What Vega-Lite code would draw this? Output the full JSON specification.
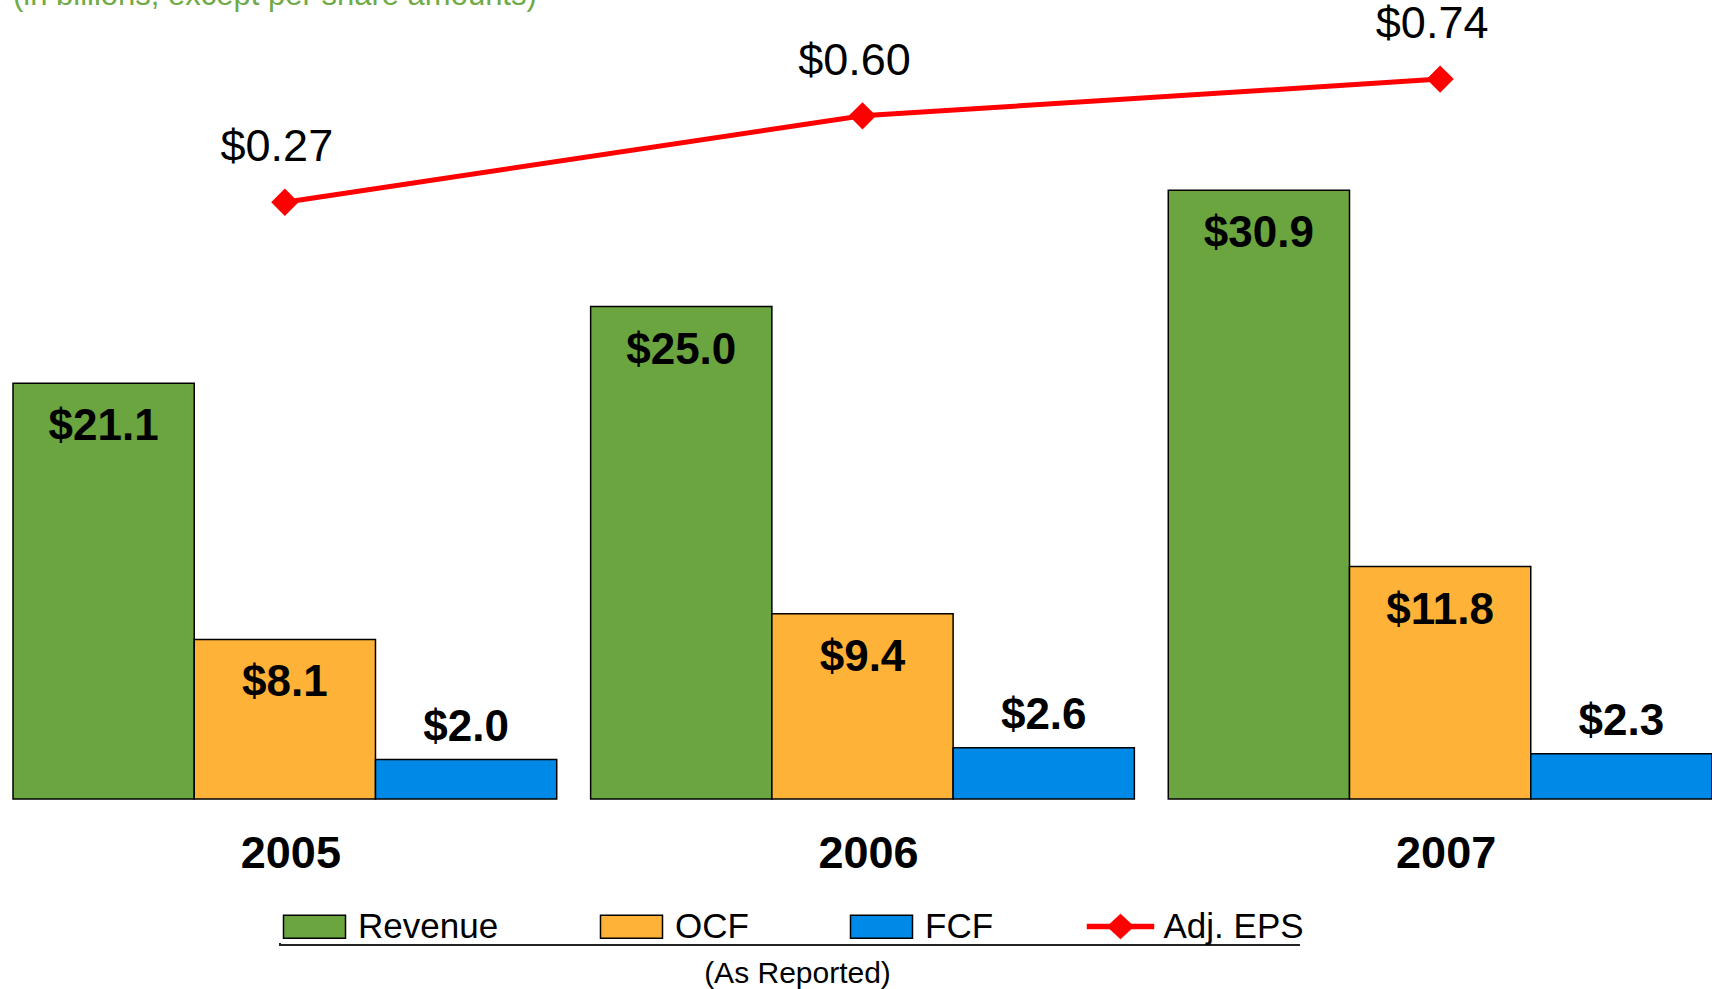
{
  "$schema": "https://vega.github.io/schema/vega-lite/v6.json",
  "autosize": {"type": "none"},
  "width": 1699,
  "height": 799,
  "padding": {"left": 13, "top": 0, "right": 0, "bottom": 190},
  "background": "white",
  "title": {
    "text": "(in billions, except per share amounts)",
    "anchor": "start",
    "frame": "group",
    "font": "Liberation Sans",
    "fontSize": 31,
    "fontWeight": "normal",
    "color": "#6FAA46",
    "offset": 0,
    "dy": 12
  },
  "data": {
    "values": [
      {"year": "2005", "metric": "Revenue", "value": 21.1},
      {"year": "2005", "metric": "OCF", "value": 8.1},
      {"year": "2005", "metric": "FCF", "value": 2.0},
      {"year": "2005", "metric": "Adj. EPS", "value": 0.27},
      {"year": "2006", "metric": "Revenue", "value": 25.0},
      {"year": "2006", "metric": "OCF", "value": 9.4},
      {"year": "2006", "metric": "FCF", "value": 2.6},
      {"year": "2006", "metric": "Adj. EPS", "value": 0.60},
      {"year": "2007", "metric": "Revenue", "value": 30.9},
      {"year": "2007", "metric": "OCF", "value": 11.8},
      {"year": "2007", "metric": "FCF", "value": 2.3},
      {"year": "2007", "metric": "Adj. EPS", "value": 0.74}
    ]
  },
  "encoding": {
    "x": {
      "field": "year",
      "type": "nominal",
      "scale": {"paddingInner": 0.0587, "paddingOuter": 0},
      "axis": {
        "domain": false,
        "ticks": false,
        "labelAngle": 0,
        "labelFont": "Liberation Sans",
        "labelFontSize": 45,
        "labelFontWeight": "bold",
        "labelColor": "black",
        "labelBaseline": "alphabetic",
        "labelPadding": 68,
        "labelOffset": 6,
        "title": "(As Reported)",
        "titleFont": "Liberation Sans",
        "titleFontSize": 30,
        "titleFontWeight": "normal",
        "titleColor": "black",
        "titleX": 784,
        "titleY": 183,
        "titleBaseline": "alphabetic"
      }
    }
  },
  "layer": [
    {
      "transform": [{"filter": "datum.metric !== 'Adj. EPS'"}],
      "mark": {"type": "bar", "stroke": "black", "strokeWidth": 1.5},
      "encoding": {
        "xOffset": {"field": "metric", "type": "nominal", "scale": {"domain": ["Revenue", "OCF", "FCF"], "paddingInner": 0, "paddingOuter": 0}},
        "y": {"field": "value", "type": "quantitative", "scale": {"domain": [0, 40.56], "nice": false, "zero": true}, "axis": null},
        "color": {
          "field": "metric",
          "type": "nominal",
          "scale": {"domain": ["Revenue", "OCF", "FCF"], "range": ["#6BA540", "#FFB238", "#0089E6"]},
          "legend": {
            "title": "\u200b",
            "titleOrient": "left",
            "titlePadding": 17,
            "titleFontSize": 35,
            "orient": "none",
            "legendX": 267,
            "legendY": 909,
            "direction": "horizontal",
            "symbolType": "M-2.067,-0.767H2.067V0.767H-2.067Z",
            "symbolSize": 900,
            "symbolStrokeColor": "black",
            "symbolStrokeWidth": 1.5,
            "symbolOpacity": 1,
            "labelFont": "Liberation Sans",
            "labelFontSize": 35,
            "labelColor": "black",
            "labelOffset": 26,
            "columnPadding": 98,
            "padding": 0
          }
        }
      }
    },
    {
      "transform": [{"filter": "datum.metric === 'Adj. EPS'"}],
      "mark": {"type": "line", "strokeWidth": 5, "point": {"filled": true, "shape": "diamond", "size": 600, "opacity": 1, "color": "#FF0000"}},
      "encoding": {
        "y": {"field": "value", "type": "quantitative", "scale": {"domain": [-2.008, 1.042], "nice": false, "zero": false}, "axis": null},
        "stroke": {
          "field": "metric",
          "type": "nominal",
          "scale": {"domain": ["Adj. EPS"], "range": ["#FF0000"]},
          "legend": {
            "title": "\u200b",
            "titleOrient": "left",
            "titlePadding": 823,
            "titleFontSize": 35,
            "orient": "none",
            "legendX": 267,
            "legendY": 909,
            "direction": "horizontal",
            "symbolType": "M-2.233,-0.167H2.233V0.167H-2.233Z M0,-0.833L0.9,0L0,0.833L-0.9,0Z",
            "symbolSize": 900,
            "symbolFillColor": "#FF0000",
            "symbolStrokeWidth": 0.5,
            "symbolOpacity": 1,
            "labelFont": "Liberation Sans",
            "labelFontSize": 35,
            "labelColor": "black",
            "labelOffset": 25.5,
            "padding": 0,
            "strokeColor": "#222222"
          }
        }
      }
    },
    {
      "transform": [{"filter": "datum.metric === 'Adj. EPS'"}],
      "mark": {"type": "text", "font": "Liberation Sans", "fontSize": 45, "color": "black", "baseline": "alphabetic", "dx": -8, "dy": -41},
      "encoding": {
        "y": {"field": "value", "type": "quantitative", "scale": {"domain": [-2.008, 1.042], "nice": false, "zero": false}, "axis": null},
        "text": {"field": "value", "type": "quantitative", "format": "$.2f"}
      }
    },
    {
      "transform": [{"filter": "datum.metric === 'Revenue' || datum.metric === 'OCF'"}],
      "mark": {"type": "text", "font": "Liberation Sans", "fontSize": 44, "fontWeight": "bold", "color": "black", "baseline": "alphabetic", "dy": 57},
      "encoding": {
        "xOffset": {"field": "metric", "type": "nominal", "scale": {"domain": ["Revenue", "OCF", "FCF"], "paddingInner": 0, "paddingOuter": 0}},
        "y": {"field": "value", "type": "quantitative", "scale": {"domain": [0, 40.56], "nice": false, "zero": true}, "axis": null},
        "text": {"field": "value", "type": "quantitative", "format": "$.1f"}
      }
    },
    {
      "transform": [{"filter": "datum.metric === 'FCF'"}],
      "mark": {"type": "text", "font": "Liberation Sans", "fontSize": 44, "fontWeight": "bold", "color": "black", "baseline": "alphabetic", "dy": -19},
      "encoding": {
        "xOffset": {"field": "metric", "type": "nominal", "scale": {"domain": ["Revenue", "OCF", "FCF"], "paddingInner": 0, "paddingOuter": 0}},
        "y": {"field": "value", "type": "quantitative", "scale": {"domain": [0, 40.56], "nice": false, "zero": true}, "axis": null},
        "text": {"field": "value", "type": "quantitative", "format": "$.1f"}
      }
    }
  ],
  "resolve": {"scale": {"y": "independent"}},
  "config": {
    "font": "Liberation Sans",
    "view": {"stroke": null},
    "legend": {
      "strokeWidth": 2,
      "strokeDash": [0, 1064, 1022, 200]
    }
  }
}
